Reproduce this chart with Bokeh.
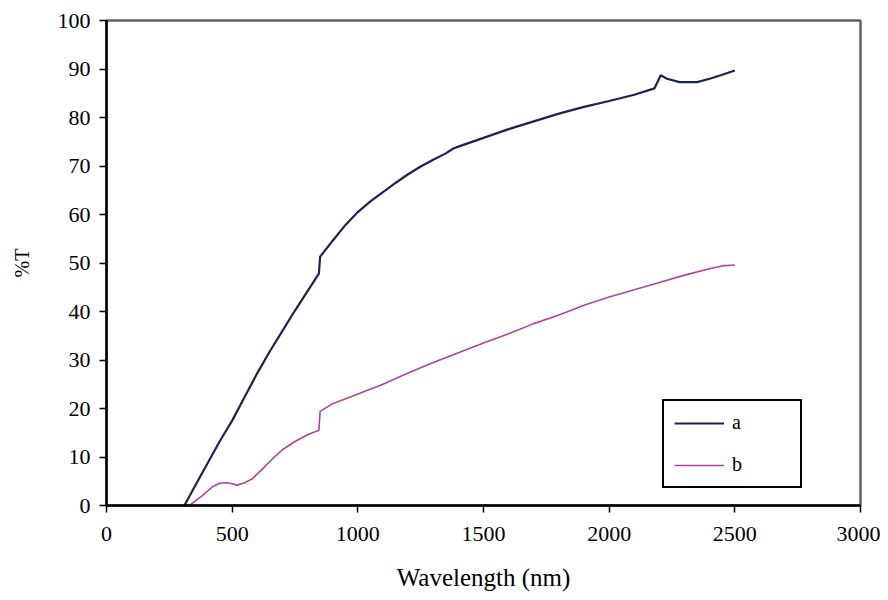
from bokeh.plotting import figure
from bokeh.models import Range1d, FixedTicker, Legend, LegendItem
from bokeh.embed import file_html
from bokeh.resources import INLINE

# Curve a
wl_a = [310, 350, 400, 450, 500, 550, 600, 650, 700, 750, 800, 845, 850, 900, 950,
        1000, 1050, 1100, 1150, 1200, 1250, 1300, 1350, 1380, 1400, 1500, 1600, 1700,
        1800, 1900, 2000, 2100, 2180, 2205, 2230, 2280, 2350, 2400, 2450, 2500]
T_a = [0, 3.8, 8.5, 13.2, 17.5, 22.4, 27.3, 31.8, 36.0, 40.2, 44.2, 47.8, 51.3, 54.6, 57.8,
       60.5, 62.7, 64.6, 66.5, 68.3, 69.9, 71.3, 72.6, 73.6, 74.0, 75.8, 77.6, 79.2,
       80.8, 82.2, 83.4, 84.7, 86.0, 88.7, 88.0, 87.3, 87.3, 88.0, 88.8, 89.7]

# Curve b
wl_b = [330, 380, 420, 450, 480, 500, 520, 550, 580, 620, 660, 700, 750, 800, 845,
        850, 900, 1000, 1100, 1200, 1300, 1400, 1500, 1600, 1700, 1800, 1900, 2000,
        2100, 2200, 2300, 2400, 2450, 2500]
T_b = [0, 2.0, 3.8, 4.6, 4.7, 4.5, 4.2, 4.7, 5.5, 7.5, 9.6, 11.5, 13.2, 14.6, 15.5,
       19.4, 21.0, 23.0, 25.0, 27.3, 29.5, 31.5, 33.5, 35.4, 37.5, 39.3, 41.3, 43.0,
       44.5, 46.0, 47.5, 48.8, 49.4, 49.6]

x_ticks = [0, 500, 1000, 1500, 2000, 2500, 3000]
y_ticks = [0, 10, 20, 30, 40, 50, 60, 70, 80, 90, 100]

SERIF = "Liberation Serif"

p = figure(width=880, height=595, x_range=Range1d(0, 3000), y_range=Range1d(0, 100),
           output_backend="svg", toolbar_location=None,
           min_border_left=106, min_border_right=20, min_border_top=20, min_border_bottom=90)

p.xgrid.visible = False
p.ygrid.visible = False
p.background_fill_color = "white"
p.border_fill_color = "white"
p.outline_line_color = "#5e6260"
p.outline_line_width = 2.5

for ax in (p.xaxis[0], p.yaxis[0]):
    ax.axis_line_color = "black"
    ax.axis_line_width = 2.5
    ax.major_tick_line_color = "black"
    ax.major_tick_line_width = 1.5
    ax.major_tick_in = 0
    ax.major_tick_out = 7
    ax.minor_tick_line_color = None
    ax.major_label_text_font = SERIF
    ax.major_label_text_font_size = "22px"
    ax.major_label_text_color = "black"
    ax.axis_label_text_font = SERIF
    ax.axis_label_text_font_style = "normal"
    ax.axis_label_text_color = "black"

p.xaxis.ticker = FixedTicker(ticks=x_ticks)
p.yaxis.ticker = FixedTicker(ticks=y_ticks)
p.xaxis.major_label_standoff = 14
p.yaxis.major_label_standoff = 9
p.xaxis.axis_label = "Wavelength (nm)"
p.yaxis.axis_label = "%T"
p.xaxis.axis_label_text_font_size = "25px"
p.yaxis.axis_label_text_font_size = "20px"
p.xaxis.axis_label_standoff = 20
p.yaxis.axis_label_standoff = 22

ra = p.line(wl_a, T_a, line_color="#1e2250", line_width=2.2)
rb = p.line(wl_b, T_b, line_color="#b0449c", line_width=1.6)

legend = Legend(items=[LegendItem(label="a", renderers=[ra]),
                       LegendItem(label="b", renderers=[rb])],
                location=(556, 17))
legend.border_line_color = "black"
legend.border_line_alpha = 1.0
legend.border_line_width = 2
legend.background_fill_color = "white"
legend.background_fill_alpha = 1
legend.label_text_font = SERIF
legend.label_text_font_size = "20px"
legend.label_text_color = "black"
legend.glyph_width = 50
legend.glyph_height = 18
legend.label_height = 18
legend.label_width = 58
legend.label_standoff = 8
legend.spacing = 19
legend.padding = 10
legend.margin = 0
p.add_layout(legend)

open("out.html", "w").write(file_html(p, INLINE))
